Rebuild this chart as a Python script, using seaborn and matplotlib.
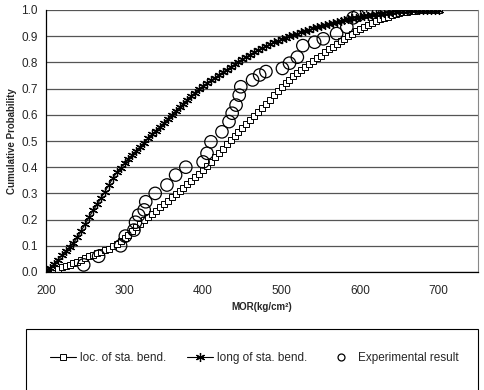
import matplotlib
matplotlib.use("Agg")
import matplotlib.pyplot as plt
import seaborn as sns
from matplotlib.patches import Rectangle
from matplotlib.lines import Line2D

# loc. of sta. bend. (squares)
mor_loc = [200, 205, 210, 215, 220, 225, 230, 235, 240, 245, 250, 255, 260, 265, 270, 275,
           280, 285, 290, 295, 300, 305, 310, 315, 320, 325, 330, 335, 340, 345, 350, 355,
           360, 365, 370, 375, 380, 385, 390, 395, 400, 405, 410, 415, 420, 425, 430, 435,
           440, 445, 450, 455, 460, 465, 470, 475, 480, 485, 490, 495, 500, 505, 510, 515,
           520, 525, 530, 535, 540, 545, 550, 555, 560, 565, 570, 575, 580, 585, 590, 595,
           600, 605, 610, 615, 620, 625, 630, 635, 640, 645, 650, 655, 660, 665, 670, 675,
           680, 685, 690, 695, 700]
prob_loc = [0.000, 0.004, 0.008, 0.013, 0.018, 0.023, 0.028, 0.034, 0.040, 0.047, 0.054, 0.060,
            0.066, 0.071, 0.077, 0.083, 0.089, 0.098, 0.108, 0.118, 0.128, 0.141, 0.155, 0.170,
            0.185, 0.198, 0.211, 0.222, 0.234, 0.247, 0.260, 0.272, 0.285, 0.297, 0.310, 0.322,
            0.335, 0.348, 0.361, 0.375, 0.390, 0.405, 0.421, 0.438, 0.455, 0.471, 0.487, 0.503,
            0.519, 0.534, 0.549, 0.564, 0.579, 0.595, 0.610, 0.625, 0.641, 0.658, 0.675, 0.690,
            0.705, 0.720, 0.734, 0.747, 0.760, 0.772, 0.784, 0.795, 0.806, 0.816, 0.826, 0.838,
            0.850, 0.860, 0.870, 0.880, 0.890, 0.900, 0.910, 0.919, 0.928, 0.936, 0.944, 0.951,
            0.958, 0.964, 0.970, 0.975, 0.980, 0.984, 0.988, 0.991, 0.994, 0.996, 0.998, 0.999,
            1.000, 1.000, 1.000, 1.000, 1.000]

# long of sta. bend. (stars)
mor_long = mor_loc
prob_long = [0.000, 0.015, 0.030, 0.047, 0.064, 0.080, 0.095, 0.112, 0.132, 0.158, 0.183, 0.210,
             0.235, 0.258, 0.282, 0.307, 0.332, 0.357, 0.380, 0.398, 0.415, 0.431, 0.447, 0.463,
             0.478, 0.494, 0.510, 0.525, 0.540, 0.554, 0.568, 0.584, 0.600, 0.614, 0.628, 0.642,
             0.656, 0.671, 0.685, 0.698, 0.710, 0.720, 0.731, 0.742, 0.752, 0.762, 0.772, 0.782,
             0.792, 0.802, 0.812, 0.821, 0.830, 0.839, 0.847, 0.855, 0.862, 0.869, 0.876, 0.882,
             0.888, 0.894, 0.900, 0.905, 0.910, 0.915, 0.920, 0.925, 0.930, 0.935, 0.940, 0.944,
             0.948, 0.952, 0.955, 0.959, 0.962, 0.965, 0.968, 0.971, 0.974, 0.977, 0.979, 0.982,
             0.984, 0.986, 0.988, 0.990, 0.992, 0.994, 0.995, 0.997, 0.998, 0.999, 1.000, 1.000,
             1.000, 1.000, 1.000, 1.000, 1.000]

# Experimental result (circles)
mor_exp = [248, 267, 295, 301, 312, 314, 318, 325, 327, 339, 354, 365, 378, 400, 405, 410,
           424, 433, 437, 442, 446, 448, 463, 472, 480, 501, 510, 520, 527, 542, 553, 570,
           583, 591, 597, 608, 616]
prob_exp = [0.027, 0.060, 0.100, 0.137, 0.160, 0.190, 0.217, 0.237, 0.268, 0.300, 0.332, 0.370,
            0.400, 0.420, 0.453, 0.497, 0.535, 0.574, 0.606, 0.637, 0.675, 0.707, 0.733, 0.752,
            0.765, 0.777, 0.797, 0.820, 0.864, 0.877, 0.890, 0.910, 0.935, 0.970, 0.980, 1.000,
            1.000]

x_ticks = [200, 300, 400, 500, 600, 700]
y_ticks = [0.0, 0.1, 0.2, 0.3, 0.4, 0.5, 0.6, 0.7, 0.8, 0.9, 1.0]

sns.set_style("white")
plt.rcParams["font.family"] = ["Liberation Sans", "DejaVu Sans"]

fig = plt.figure(figsize=(4.84, 3.90), dpi=100)
ax = fig.add_axes([46 / 484, 1 - 272 / 390, (478 - 46) / 484, (272 - 10) / 390])

for yv in y_ticks:
    ax.axhline(yv, color="#555555", lw=0.9, zorder=0)

sns.lineplot(x=mor_loc, y=prob_loc, ax=ax, color="black", lw=0.8, marker="s",
             markersize=4.5, markerfacecolor="white", markeredgecolor="black",
             markeredgewidth=0.7, label="loc. of sta. bend.")
sns.lineplot(x=mor_long, y=prob_long, ax=ax, color="black", lw=0.8, marker=(6, 2, 0),
             markersize=6.5, markeredgecolor="black", markeredgewidth=0.9,
             label="long of sta. bend.")
sns.scatterplot(x=mor_exp, y=prob_exp, ax=ax, s=80, facecolor="none", edgecolor="black",
                linewidth=0.9, marker="o", zorder=5)

ax.set_xlim(200, 750)
ax.set_ylim(0, 1.0)
ax.set_xticks(x_ticks)
ax.set_yticks(y_ticks)
ax.set_yticklabels([f"{v:.1f}" for v in y_ticks])
ax.tick_params(axis="both", labelsize=8.5, length=0, pad=6)
ax.tick_params(axis="x", pad=9)
ax.spines["top"].set_visible(False)
ax.spines["right"].set_color("#888888")
ax.spines["right"].set_linewidth(0.8)
ax.spines["left"].set_color("black")
ax.spines["left"].set_linewidth(0.9)
ax.spines["bottom"].set_color("black")
ax.spines["bottom"].set_linewidth(0.9)

ax.set_xlabel("MOR(kg/cm²)", fontsize=7, fontweight="bold", labelpad=4)
ax.set_ylabel("Cumulative Probability", fontsize=7, fontweight="bold", labelpad=3)

handles, labels = ax.get_legend_handles_labels()
if ax.get_legend() is not None:
    ax.get_legend().remove()
handles.append(Line2D([], [], ls="none", marker="o", markersize=5, markerfacecolor="none",
                      markeredgecolor="black", markeredgewidth=0.9))
labels.append("Experimental result")
fig.patches.append(Rectangle((26 / 484, -0.02), (478 - 26) / 484, 0.02 + 1 - 329 / 390,
                             transform=fig.transFigure, fill=False, edgecolor="black",
                             linewidth=0.8))
fig.legend(handles, labels, ncol=3, loc="center", bbox_to_anchor=(0.525, 1 - 358 / 390),
           frameon=False, fontsize=8.5, handlelength=2.2, handletextpad=0.3,
           columnspacing=1.8)

fig.savefig("out.png", dpi=100)
